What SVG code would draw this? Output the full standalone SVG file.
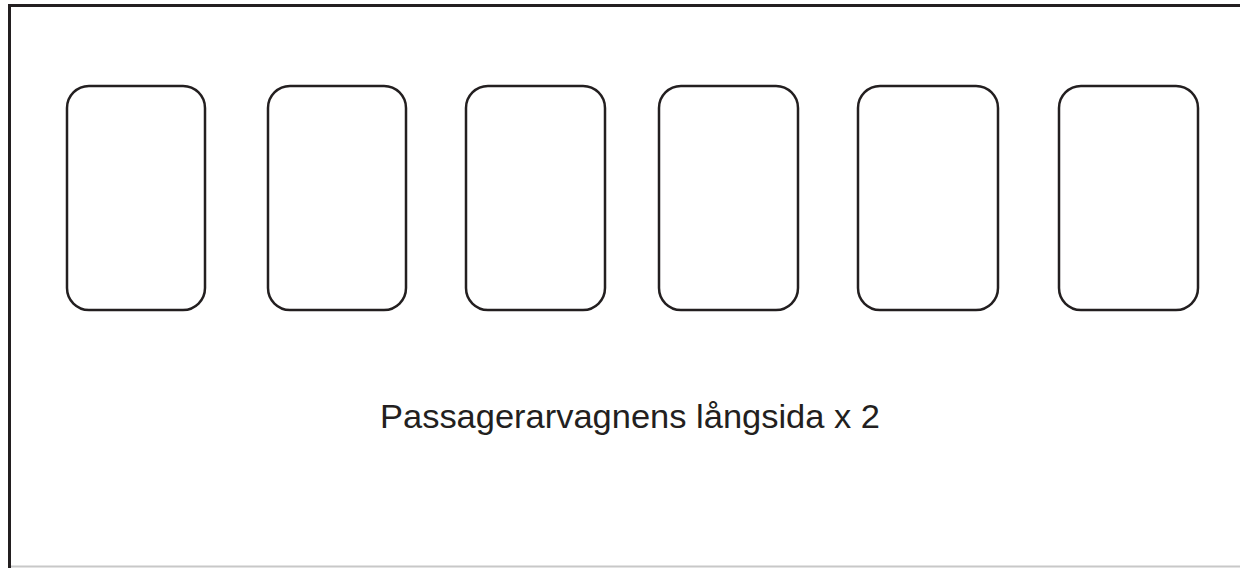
<svg xmlns="http://www.w3.org/2000/svg" width="1240" height="568" viewBox="0 0 1240 568">
<style>
.win{fill:#fff;stroke:#231f20;stroke-width:2.5}
.lbl{font-family:"Liberation Sans",Arial,sans-serif;font-size:33px;fill:#231f20}
</style>
<rect x="0" y="0" width="1240" height="568" fill="#fff"/>
<line x1="9" y1="566.5" x2="1240" y2="566.5" stroke="#c8c8c8" stroke-width="2"/>
<path d="M9.5 568 V5.5 H1242" fill="none" stroke="#231f20" stroke-width="3"/>
<g id="w1"><rect class="win" x="67" y="86" width="138" height="224" rx="22"/></g>
<g id="w2"><rect class="win" x="268" y="86" width="138" height="224" rx="22"/></g>
<g id="w3"><rect class="win" x="466" y="86" width="139" height="224" rx="22"/></g>
<g id="w4"><rect class="win" x="659" y="86" width="139" height="224" rx="22"/></g>
<g id="w5"><rect class="win" x="858" y="86" width="140" height="224" rx="22"/></g>
<g id="w6"><rect class="win" x="1059" y="86" width="139" height="224" rx="22"/></g>
<g id="label"><text class="lbl" x="380" y="428" textLength="500" lengthAdjust="spacingAndGlyphs">Passagerarvagnens långsida x 2</text></g>
</svg>
